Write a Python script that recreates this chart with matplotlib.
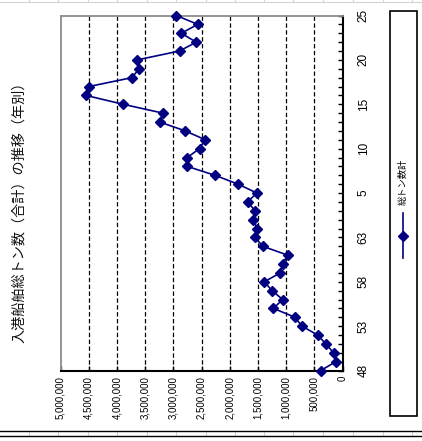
import matplotlib
matplotlib.use("Agg")
import matplotlib.pyplot as plt
from matplotlib.lines import Line2D
from matplotlib.patches import Rectangle

plt.rcParams['font.family'] = ['Liberation Sans', 'Noto Sans CJK JP', 'DejaVu Sans']

# Data: years Showa 48-63, Heisei 1-25
years = [str(y) for y in range(48, 64)] + [str(y) for y in range(1, 26)]
tonnage = [383000, 118000, 159000, 295000, 442000, 719000, 843000, 1226000,
           1061000, 1250000, 1386000, 1103000, 1061000, 973000, 1415000, 1551000,
           1521000, 1580000, 1551000, 1680000, 1521000, 1851000, 2264000, 2753000,
           2753000, 2535000, 2435000, 2789000, 3243000, 3184000, 3892000, 4552000,
           4493000, 3732000, 3608000, 3638000, 2889000, 2594000, 2860000, 2565000,
           2948000]
value_ticks = [0, 500000, 1000000, 1500000, 2000000, 2500000, 3000000,
               3500000, 4000000, 4500000, 5000000]
value_labels = ['0', '500,000', '1,000,000', '1,500,000', '2,000,000', '2,500,000',
                '3,000,000', '3,500,000', '4,000,000', '4,500,000', '5,000,000']
title = '入港船舶総トン数（合計）の推移（年別）'
series_name = '総トン数計'

W, H = 422, 441
fig = plt.figure(figsize=(W / 100, H / 100), dpi=100)
fig.patch.set_facecolor('white')

def fx(px):
    return px / W

def fy(py):
    return 1 - py / H

ax = fig.add_axes([fx(60.5), fy(370.5), fx(342.5 - 60.5), (370.5 - 15.5) / H])
idx = list(range(len(years)))
ax.plot(tonnage, idx, color='#000080', lw=1.2, marker='D', markersize=4.8,
        zorder=3, clip_on=False)
ax.set_xlim(5000000, 0)
ax.set_ylim(0, len(years) - 1)

for v in value_ticks[1:-1]:
    ax.axvline(v, color='black', lw=0.9, linestyle=(0, (3.5, 2)), zorder=1)

ax.set_xticks(value_ticks)
ax.set_xticklabels(value_labels, rotation=90, fontsize=7)
ax.tick_params(axis='x', direction='in', length=3.5, width=1, pad=4)

ax.yaxis.tick_right()
ax.set_yticks(idx)
ax.set_yticklabels([y if i % 5 == 0 else '' for i, y in enumerate(years)],
                   rotation=90, fontsize=8.5, va='center')
ax.tick_params(axis='y', direction='in', length=3.5, width=1, pad=11)

for s in ['top', 'left']:
    ax.spines[s].set_color('#8c8c8c')
    ax.spines[s].set_linewidth(1.3)
for s in ['right', 'bottom']:
    ax.spines[s].set_color('black')
    ax.spines[s].set_linewidth(1.5)

# Title (rotated)
fig.text(fx(18.5), fy(209), title, rotation=90, ha='center', va='center',
         fontsize=10.2, family=['Noto Sans CJK JP'], color='#111111')

# Legend box (rotated)
fig.add_artist(Rectangle((fx(389.5), fy(416)), fx(417 - 389.5), (416 - 11) / H,
                         transform=fig.transFigure, facecolor='white',
                         edgecolor='black', lw=1.2))
fig.add_artist(Line2D([fx(402.5), fx(402.5)], [fy(258), fy(213)],
                      transform=fig.transFigure, color='#000080', lw=1.2))
fig.add_artist(Line2D([fx(402.5)], [fy(236)], transform=fig.transFigure,
                      color='#000080', marker='D', markersize=4.6))
fig.text(fx(403.5), fy(182), series_name, rotation=90, ha='center', va='center',
         fontsize=6.7, family=['Noto Sans CJK JP'])

# Spreadsheet cell lines (decorative background)
cell_x = [29, 58, 88, 117, 147, 176, 206, 235, 264, 293, 323, 353, 383, 412]
fig.add_artist(Line2D([0, 1], [fy(1.5), fy(1.5)], transform=fig.transFigure,
                      color='#d4d4d4', lw=0.8))
for cx in cell_x:
    fig.add_artist(Line2D([fx(cx), fx(cx)], [fy(0), fy(2)], transform=fig.transFigure,
                          color='#d4d4d4', lw=0.8))
    fig.add_artist(Line2D([fx(cx), fx(cx)], [fy(431), fy(435.5)],
                          transform=fig.transFigure, color='#d4d4d4', lw=0.8))
for yy in [430.8, 435.8]:
    fig.add_artist(Line2D([0, 1], [fy(yy), fy(yy)], transform=fig.transFigure,
                          color='black', lw=1.0))

fig.savefig('out.png', dpi=100, facecolor='white')
